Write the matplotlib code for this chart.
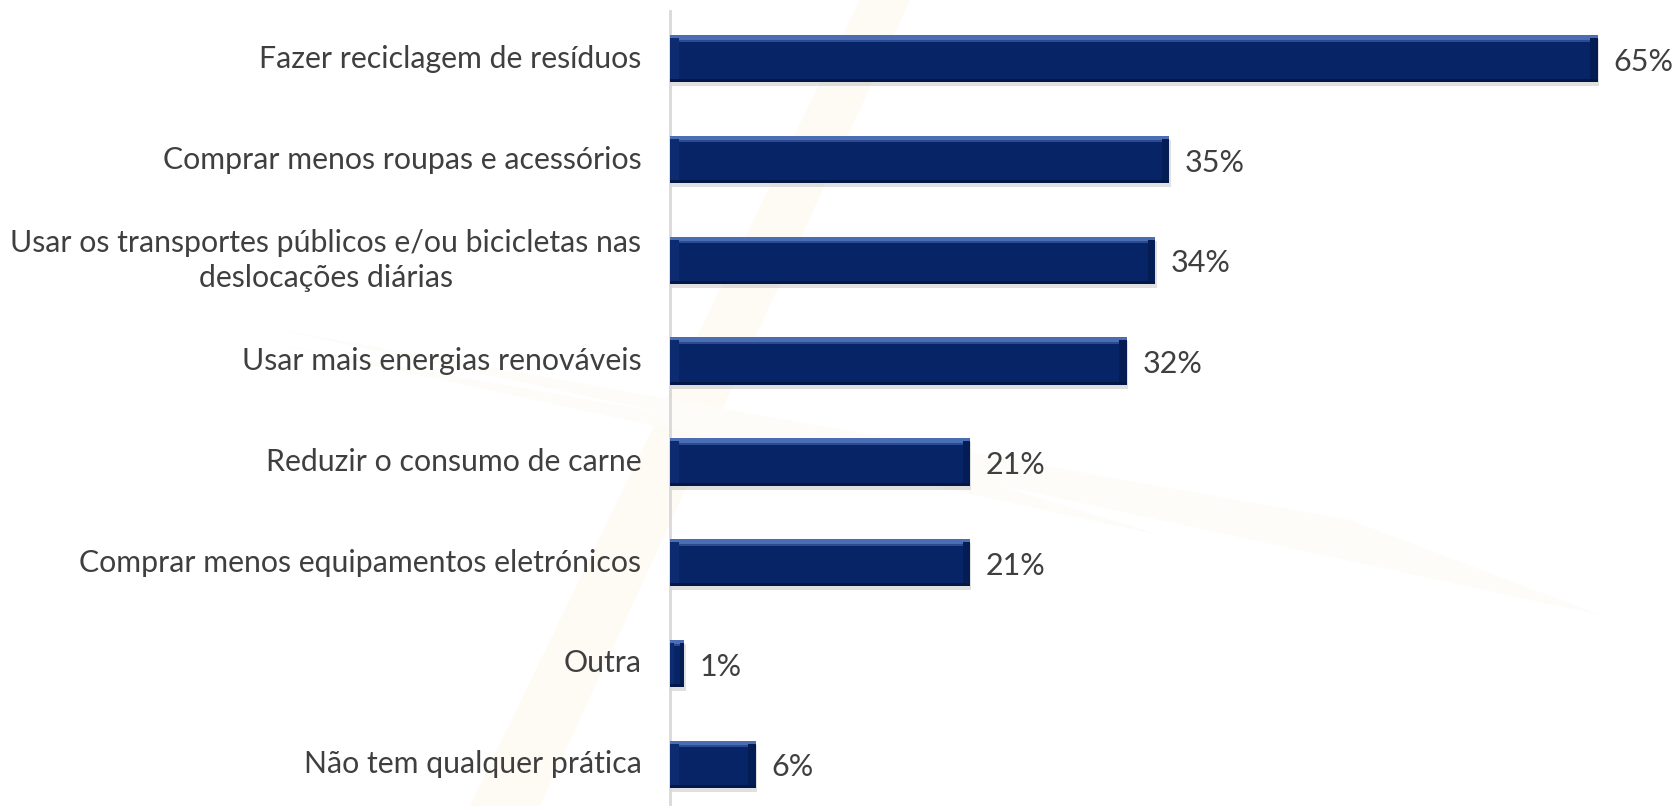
import matplotlib.pyplot as plt
from matplotlib.patches import Polygon

# Dados
categorias = [
    'Fazer reciclagem de resíduos',
    'Comprar menos roupas e acessórios',
    'Usar os transportes públicos e/ou bicicletas nas\ndeslocações diárias',
    'Usar mais energias renováveis',
    'Reduzir o consumo de carne',
    'Comprar menos equipamentos eletrónicos',
    'Outra',
    'Não tem qualquer prática',
]
valores = [65, 35, 34, 32, 21, 21, 1, 6]
rotulos = ['65%', '35%', '34%', '32%', '21%', '21%', '1%', '6%']

plt.rcParams['font.family'] = ['Lato', 'DejaVu Sans']

fig = plt.figure(figsize=(16.76, 8.06), dpi=100)
fig.patch.set_facecolor('white')

# marca de agua quase invisivel no fundo
fundo = fig.add_axes([0, 0, 1, 1], zorder=0)
fundo.set_xlim(0, 1676)
fundo.set_ylim(806, 0)
fundo.axis('off')
fundo.add_patch(Polygon([(540, 806), (910, 0), (860, 0), (470, 806)], closed=True,
                        color='#fefbf5', lw=0))
fundo.add_patch(Polygon([(280, 330), (1600, 615), (1350, 520)], closed=True,
                        color='#fdfcf9', lw=0))
fundo.add_patch(Polygon([(280, 345), (1160, 535), (900, 455)], closed=True,
                        color='#fdfcf9', lw=0))

ax = fig.add_axes([670 / 1676, 0, 1 - 670 / 1676, 1], zorder=1)
ax.patch.set_alpha(0)
ax.set_xlim(0, 70.5)
ax.set_ylim(7.414, -0.583)

y = list(range(len(valores)))
h = 0.47

# sombra, corpo e relevo das barras
ax.barh([v + 0.04 for v in y], [v + 0.12 for v in valores], height=h, color='#9a9a9a', alpha=0.3, zorder=1)
ax.barh(y, valores, height=h, color='#072466', zorder=2)
ax.barh([v - h / 2 + 0.025 for v in y], valores, height=0.05, color='#4a6db3', zorder=3)
ax.barh([v - h / 2 + 0.055 for v in y], valores, height=0.02, color='#2a4a92', zorder=3)
ax.barh([v + h / 2 - 0.015 for v in y], valores, height=0.03, color='#031846', zorder=3)
ax.barh(y, [min(0.6, v * 0.3) for v in valores], height=h - 0.06, color='#0d2b70', zorder=3)
ax.barh(y, [min(0.5, v * 0.3) for v in valores], left=[v - min(0.5, v * 0.3) for v in valores],
        height=h - 0.06, color='#051d55', zorder=3)

for yi, v, r in zip(y, valores, rotulos):
    ax.text(v + 1.1, yi + 0.03, r, ha='left', va='center', fontsize=22, color='#3f3f3f')

for yi, c in zip(y, categorias):
    ax.text(-2.0, yi, c, ha='right', va='center', multialignment='center',
            fontsize=21.8, color='#3f3f3f', linespacing=1.3, clip_on=False)

for s in ['top', 'right', 'bottom']:
    ax.spines[s].set_visible(False)
ax.spines['left'].set_color('#d9d9d9')
ax.spines['left'].set_linewidth(2)
ax.spines['left'].set_bounds(7.414, -0.474)
ax.set_xticks([])
ax.set_yticks([])

fig.savefig('out.png', dpi=100)
